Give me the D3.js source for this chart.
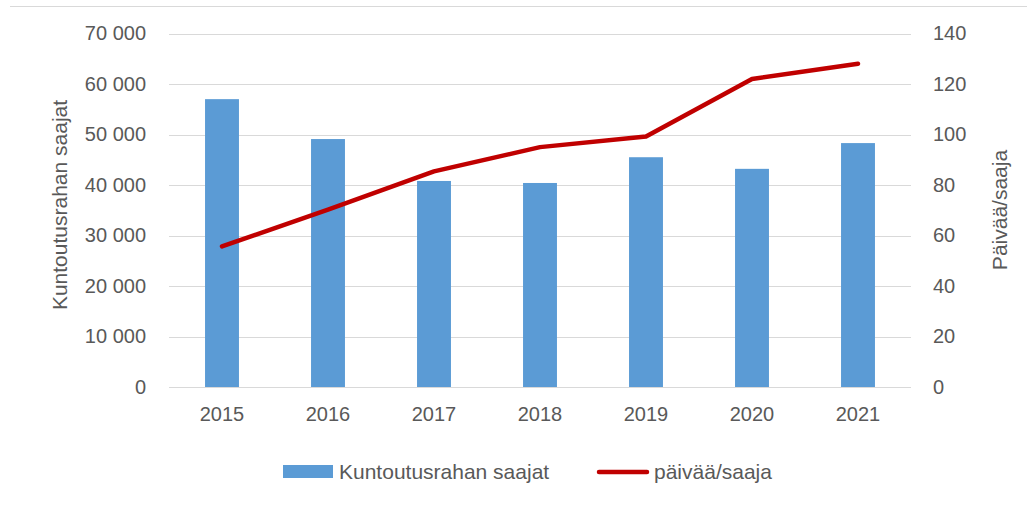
<!DOCTYPE html>
<html>
<head>
<meta charset="utf-8">
<script src="https://cdn.jsdelivr.net/npm/d3@7"></script>
<style>
  body { margin: 0; background: #fff; }
  text { font-family: "Liberation Sans", Arial, sans-serif; fill: #595959; }
</style>
</head>
<body>
<script>
// data
const years = ["2015", "2016", "2017", "2018", "2019", "2020", "2021"]
const saajat = [57000, 49100, 40800, 40400, 45500, 43200, 48300]
const paivaa = [55.7, 70.2, 85.4, 95.0, 99.2, 122.0, 128.0]
const leftTicks = [0, 10000, 20000, 30000, 40000, 50000, 60000, 70000]
const rightTicks = [0, 20, 40, 60, 80, 100, 120, 140]

const width = 1027, height = 508
const margin = {top: 33.5, bottom: 121, left: 169, right: 116}

const svg = d3.select("body").append("svg")
  .attr("width", width)
  .attr("height", height)

// top frame line
svg.append("line")
  .attr("x1", 10).attr("x2", width)
  .attr("y1", 6.5).attr("y2", 6.5)
  .attr("stroke", "#d9d9d9")

const x = d3.scaleBand()
  .domain(years)
  .range([margin.left, width - margin.right])
  .paddingInner(0.68)
  .paddingOuter(0.34)

const yL = d3.scaleLinear()
  .domain([0, 70000])
  .range([height - margin.bottom, margin.top])

const yR = d3.scaleLinear()
  .domain([0, 140])
  .range([height - margin.bottom, margin.top])

const fmt = d => d3.format(",")(d).replace(/,/g, " ")

// gridlines
svg.append("g")
  .selectAll("line")
  .data(leftTicks)
  .enter().append("line")
  .attr("x1", margin.left).attr("x2", width - margin.right)
  .attr("y1", d => Math.round(yL(d)) + 0.5)
  .attr("y2", d => Math.round(yL(d)) + 0.5)
  .attr("stroke", "#d9d9d9")
  .attr("stroke-width", 1)

// left axis
const axL = svg.append("g")
  .attr("transform", "translate(" + margin.left + ",0)")
  .call(d3.axisLeft(yL).tickValues(leftTicks).tickFormat(fmt).tickSize(0).tickPadding(23))
axL.select(".domain").remove()
axL.selectAll("text").style("font-size", "20px").attr("fill", "#595959")

// right axis
const axR = svg.append("g")
  .attr("transform", "translate(" + (width - margin.right) + ",0)")
  .call(d3.axisRight(yR).tickValues(rightTicks).tickSize(0).tickPadding(22))
axR.select(".domain").remove()
axR.selectAll("text").style("font-size", "20px").attr("fill", "#595959")

// x axis
const axX = svg.append("g")
  .attr("transform", "translate(0," + (height - margin.bottom) + ")")
  .call(d3.axisBottom(x).tickSize(0).tickPadding(20))
axX.select(".domain").remove()
axX.selectAll("text").style("font-size", "20px").attr("fill", "#595959")

// bars
svg.append("g")
  .selectAll("rect")
  .data(years)
  .enter().append("rect")
  .attr("x", (d, i) => x(d))
  .attr("y", (d, i) => yL(saajat[i]))
  .attr("width", x.bandwidth())
  .attr("height", (d, i) => yL(0) - yL(saajat[i]))
  .attr("fill", "#5b9bd5")

// line
const line = d3.line()
  .x((d, i) => x(years[i]) + x.bandwidth() / 2)
  .y(d => yR(d))

svg.append("path")
  .attr("d", line(paivaa))
  .attr("fill", "none")
  .attr("stroke", "#c00000")
  .attr("stroke-width", 4.5)
  .attr("stroke-linecap", "round")
  .attr("stroke-linejoin", "round")

// axis titles
svg.append("text")
  .text("Kuntoutusrahan saajat")
  .attr("transform", "translate(67,205) rotate(-90)")
  .attr("text-anchor", "middle")
  .style("font-size", "21px")

svg.append("text")
  .text("Päivää/saaja")
  .attr("transform", "translate(1007,210) rotate(-90)")
  .attr("text-anchor", "middle")
  .style("font-size", "21px")

// legend
const legend = svg.append("g")
legend.append("rect")
  .attr("x", 283).attr("y", 465)
  .attr("width", 50).attr("height", 13)
  .attr("fill", "#5b9bd5")
legend.append("text")
  .text("Kuntoutusrahan saajat")
  .attr("x", 339).attr("y", 479)
  .style("font-size", "21px")
legend.append("line")
  .attr("x1", 599).attr("x2", 647)
  .attr("y1", 472).attr("y2", 472)
  .attr("stroke", "#c00000")
  .attr("stroke-width", 4.5)
  .attr("stroke-linecap", "round")
legend.append("text")
  .text("päivää/saaja")
  .attr("x", 654).attr("y", 479)
  .style("font-size", "21px")
</script>
</body>
</html>
